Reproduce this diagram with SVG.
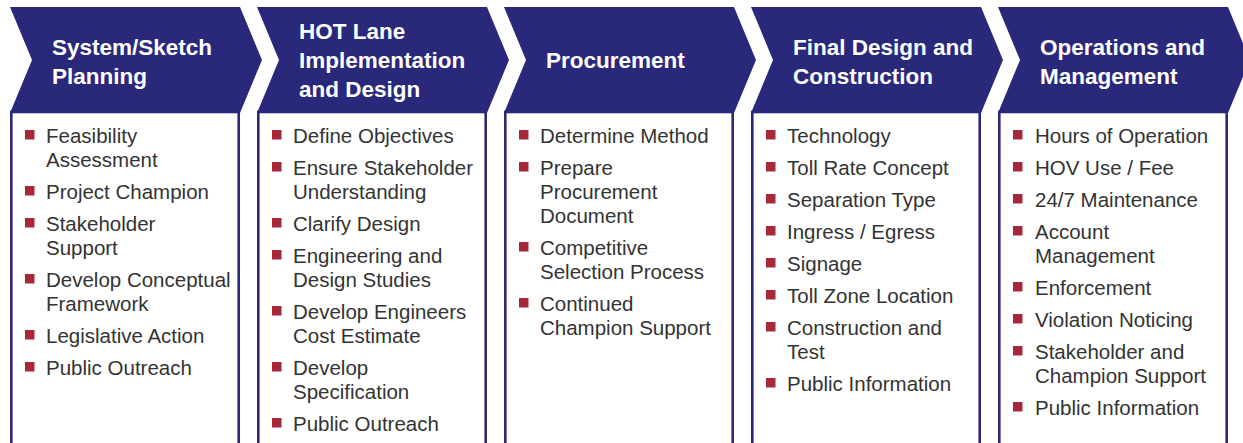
<svg xmlns="http://www.w3.org/2000/svg" width="1243" height="443" viewBox="0 0 1243 443">
<style>
.chev{fill:#2a287a}
.box{fill:#fff;stroke:#2a287a;stroke-width:2.6}
.hd{font-family:"Liberation Sans",Arial,sans-serif;font-weight:bold;font-size:22.5px;fill:#fff}
.it{font-family:"Liberation Sans",Arial,sans-serif;font-size:20.5px;fill:#333}
.b{fill:#a8283a}
</style>
<defs>
<polygon id="chevShape" points="0,7 230,7 252,60 230,113 0,113 22,60"/>
<rect id="bul" width="9.5" height="9.5"/>
</defs>
<rect width="1243" height="443" fill="#fff"/>
<g id="connectors"/>

<g id="stage1" transform="translate(10,0)">
<rect class="box" x="1.3" y="112" width="227.4" height="345"/>
<use href="#chevShape" class="chev"/>
<text class="hd" x="42"><tspan x="42" y="55">System/Sketch</tspan><tspan x="42" y="84">Planning</tspan></text>
<g class="b"><use href="#bul" x="15" y="130"/><use href="#bul" x="15" y="186"/><use href="#bul" x="15" y="218"/><use href="#bul" x="15" y="274"/><use href="#bul" x="15" y="330"/><use href="#bul" x="15" y="362"/></g>
<text class="it"><tspan x="36" y="143">Feasibility</tspan><tspan x="36" y="167">Assessment</tspan><tspan x="36" y="199">Project Champion</tspan><tspan x="36" y="231">Stakeholder</tspan><tspan x="36" y="255">Support</tspan><tspan x="36" y="287">Develop Conceptual</tspan><tspan x="36" y="311">Framework</tspan><tspan x="36" y="343">Legislative Action</tspan><tspan x="36" y="375">Public Outreach</tspan></text>
</g>

<g id="stage2" transform="translate(257,0)">
<rect class="box" x="1.3" y="112" width="227.4" height="345"/>
<use href="#chevShape" class="chev"/>
<text class="hd"><tspan x="42" y="39">HOT Lane</tspan><tspan x="42" y="68">Implementation</tspan><tspan x="42" y="97">and Design</tspan></text>
<g class="b"><use href="#bul" x="15" y="130"/><use href="#bul" x="15" y="162"/><use href="#bul" x="15" y="218"/><use href="#bul" x="15" y="250"/><use href="#bul" x="15" y="306"/><use href="#bul" x="15" y="362"/><use href="#bul" x="15" y="418"/></g>
<text class="it"><tspan x="36" y="143">Define Objectives</tspan><tspan x="36" y="175">Ensure Stakeholder</tspan><tspan x="36" y="199">Understanding</tspan><tspan x="36" y="231">Clarify Design</tspan><tspan x="36" y="263">Engineering and</tspan><tspan x="36" y="287">Design Studies</tspan><tspan x="36" y="319">Develop Engineers</tspan><tspan x="36" y="343">Cost Estimate</tspan><tspan x="36" y="375">Develop</tspan><tspan x="36" y="399">Specification</tspan><tspan x="36" y="431">Public Outreach</tspan></text>
</g>

<g id="stage3" transform="translate(504,0)">
<rect class="box" x="1.3" y="112" width="227.4" height="345"/>
<use href="#chevShape" class="chev"/>
<text class="hd"><tspan x="42" y="68">Procurement</tspan></text>
<g class="b"><use href="#bul" x="15" y="130"/><use href="#bul" x="15" y="162"/><use href="#bul" x="15" y="242"/><use href="#bul" x="15" y="298"/></g>
<text class="it"><tspan x="36" y="143">Determine Method</tspan><tspan x="36" y="175">Prepare</tspan><tspan x="36" y="199">Procurement</tspan><tspan x="36" y="223">Document</tspan><tspan x="36" y="255">Competitive</tspan><tspan x="36" y="279">Selection Process</tspan><tspan x="36" y="311">Continued</tspan><tspan x="36" y="335">Champion Support</tspan></text>
</g>

<g id="stage4" transform="translate(751,0)">
<rect class="box" x="1.3" y="112" width="227.4" height="345"/>
<use href="#chevShape" class="chev"/>
<text class="hd"><tspan x="42" y="55">Final Design and</tspan><tspan x="42" y="84">Construction</tspan></text>
<g class="b"><use href="#bul" x="15" y="130"/><use href="#bul" x="15" y="162"/><use href="#bul" x="15" y="194"/><use href="#bul" x="15" y="226"/><use href="#bul" x="15" y="258"/><use href="#bul" x="15" y="290"/><use href="#bul" x="15" y="322"/><use href="#bul" x="15" y="378"/></g>
<text class="it"><tspan x="36" y="143">Technology</tspan><tspan x="36" y="175">Toll Rate Concept</tspan><tspan x="36" y="207">Separation Type</tspan><tspan x="36" y="239">Ingress / Egress</tspan><tspan x="36" y="271">Signage</tspan><tspan x="36" y="303">Toll Zone Location</tspan><tspan x="36" y="335">Construction and</tspan><tspan x="36" y="359">Test</tspan><tspan x="36" y="391">Public Information</tspan></text>
</g>

<g id="stage5" transform="translate(998,0)">
<rect class="box" x="1.3" y="112" width="227.4" height="345"/>
<use href="#chevShape" class="chev"/>
<text class="hd"><tspan x="42" y="55">Operations and</tspan><tspan x="42" y="84">Management</tspan></text>
<g class="b"><use href="#bul" x="15" y="130"/><use href="#bul" x="15" y="162"/><use href="#bul" x="15" y="194"/><use href="#bul" x="15" y="226"/><use href="#bul" x="15" y="282"/><use href="#bul" x="15" y="314"/><use href="#bul" x="15" y="346"/><use href="#bul" x="15" y="402"/></g>
<text class="it"><tspan x="37" y="143">Hours of Operation</tspan><tspan x="37" y="175">HOV Use / Fee</tspan><tspan x="37" y="207">24/7 Maintenance</tspan><tspan x="37" y="239">Account</tspan><tspan x="37" y="263">Management</tspan><tspan x="37" y="295">Enforcement</tspan><tspan x="37" y="327">Violation Noticing</tspan><tspan x="37" y="359">Stakeholder and</tspan><tspan x="37" y="383">Champion Support</tspan><tspan x="37" y="415">Public Information</tspan></text>
</g>
</svg>
